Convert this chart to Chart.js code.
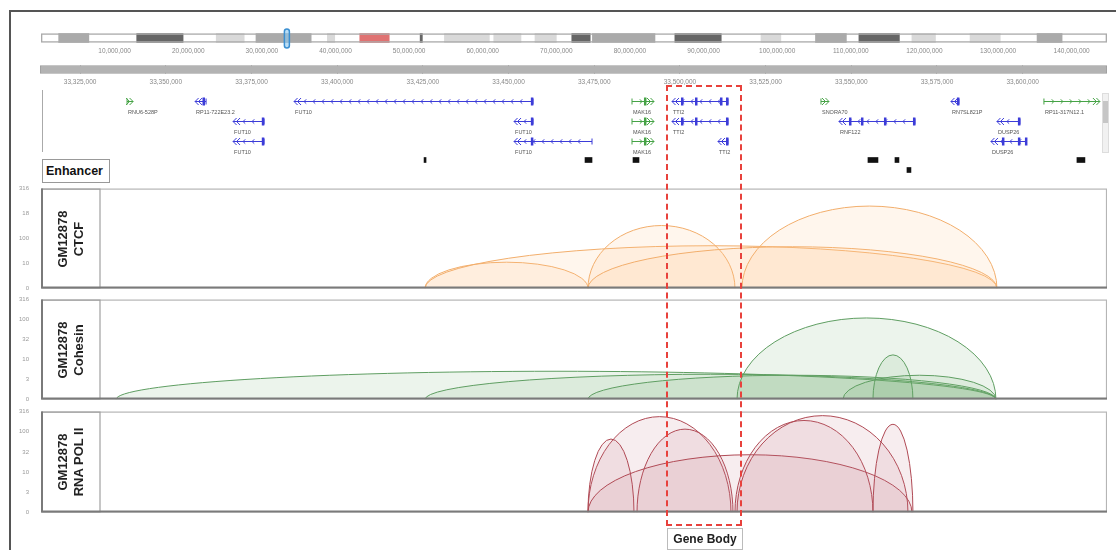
<!DOCTYPE html>
<html>
<head>
<meta charset="utf-8">
<script src="https://cdn.jsdelivr.net/npm/chart.js@4.4.0/dist/chart.umd.min.js"></script>
<style>
body { margin: 0; width: 1116px; height: 550px; overflow: hidden; background: #fff; position: relative; font-family: "Liberation Sans", Arial, sans-serif; }
canvas { position: absolute; }
.frame { position: absolute; left: 9px; top: 10px; width: 1200px; height: 600px; border: 2px solid #555; }
.plabel { position: absolute; left: 42px; width: 58px; }
.plabel span { position: absolute; left: 50%; top: 50%; transform: translate(-50%, -50%) rotate(-90deg); white-space: nowrap; font-weight: bold; font-size: 13px; line-height: 16px; text-align: center; color: #222; }
.enh { position: absolute; left: 42px; top: 159px; width: 63px; height: 22px; border: 1px solid #999; font-weight: bold; font-size: 12.5px; line-height: 22px; padding-left: 3px; color: #111; }
.gline { position: absolute; left: 42px; top: 90px; width: 1px; height: 62px; background: #aaa; }
.scroll { position: absolute; left: 1102px; top: 93px; width: 5px; height: 58px; background: #f1f1f1; border: 1px solid #ddd; }
.scroll div { position: absolute; left: 0; top: 7px; width: 5px; height: 22px; background: #c6c6c6; }
.body { position: absolute; left: 666px; top: 85px; width: 72px; height: 437px; border: 2px dashed #e8413c; }
.bodylbl { position: absolute; left: 667px; top: 528px; width: 74px; height: 20px; border: 1px solid #bbb; font-weight: bold; font-size: 12px; line-height: 20px; text-align: center; color: #222; }
</style>
</head>
<body>
<div class="frame"></div>

<canvas id="ideo" width="1066" height="33" style="left:41px;top:27px"></canvas>
<canvas id="ruler" width="1067" height="30" style="left:40px;top:60px"></canvas>
<div class="gline"></div>
<canvas id="genes" width="1067" height="70" style="left:40px;top:88px"></canvas>
<div class="scroll"><div></div></div>
<div class="enh">Enhancer</div>
<canvas id="enhancer" width="1067" height="20" style="left:40px;top:155px"></canvas>

<canvas id="ctcf" width="1097" height="113" style="left:10px;top:182px"></canvas>
<canvas id="cohesin" width="1097" height="113" style="left:10px;top:293px"></canvas>
<canvas id="pol" width="1097" height="114" style="left:10px;top:405px"></canvas>
<div class="plabel" style="top:187px;height:103px"><span>GM12878<br>CTCF</span></div>
<div class="plabel" style="top:298px;height:103px"><span>GM12878<br>Cohesin</span></div>
<div class="plabel" style="top:410px;height:104px"><span>GM12878<br>RNA POL II</span></div>

<div class="body"></div>
<div class="bodylbl">Gene Body</div>

<script>
Chart.defaults.font.family = '"Liberation Sans", Arial, sans-serif';
Chart.defaults.animation = false;

// chromosome ideogram (Mb)
const chromEnd = 144.8;
const markerMb = 33.4;
const ideoTicks = [10, 20, 30, 40, 50, 60, 70, 80, 90, 100, 110, 120, 130, 140];
const bandStarts = [2.4, 13.0, 23.8, 29.2, 38.9, 43.3, 51.5, 54.8, 61.5, 67.1, 72.1, 74.9, 86.1, 97.8, 105.2, 111.1, 118.3, 126.2, 135.3];
const bandEnds   = [6.5, 19.3, 27.6, 36.7, 39.9, 47.3, 51.8, 60.9, 65.2, 70.0, 74.6, 83.4, 92.4, 100.5, 109.4, 116.6, 121.5, 130.3, 138.7];
const bandShades = ['mid', 'dark', 'light', 'mid', 'light', 'cen', 'dark', 'light', 'light', 'light', 'dark', 'mid', 'dark', 'light', 'mid', 'dark', 'light', 'light', 'mid'];
const shadeColors = { light: '#d9d9d9', mid: '#aaaaaa', dark: '#666666', cen: '#e07272' };

// genomic window (bp)
const viewStart = 33313300;
const viewEnd = 33624600;
const rulerTicks = [33325000, 33350000, 33375000, 33400000, 33425000, 33450000, 33475000, 33500000, 33525000, 33550000, 33575000, 33600000];

// genes
const geneNames   = ['RNU6-528P', 'RP11-722E23.2', 'FUT10', 'FUT10', 'FUT10', 'FUT10', 'FUT10', 'MAK16', 'MAK16', 'MAK16', 'TTI2', 'TTI2', 'TTI2', 'SNORA70', 'RNF122', 'RN7SL821P', 'DUSP26', 'DUSP26', 'RP11-317N12.1'];
const geneStarts  = [33338700, 33358550, 33387420, 33369630, 33369630, 33451600, 33451600, 33486020, 33486020, 33486020, 33497690, 33497690, 33511100, 33541150, 33546400, 33579070, 33592490, 33590740, 33606200];
const geneEnds    = [33340460, 33361750, 33457140, 33378670, 33378670, 33457140, 33474350, 33492440, 33492440, 33492440, 33514020, 33514020, 33514020, 33543480, 33568570, 33581400, 33599200, 33600950, 33622530];
const geneRows    = [1, 1, 1, 2, 3, 2, 3, 1, 2, 3, 1, 2, 3, 1, 2, 1, 2, 3, 1];
const geneStrands = [1, -1, -1, -1, -1, -1, -1, 1, 1, 1, -1, -1, -1, 1, -1, -1, -1, -1, 1];
const geneExons   = [[], [33361000], [33456800], [33378300], [33378300], [33456800], [33456800],
  [33489800], [33489800], [33489800],
  [33500600, 33504690, 33511980, 33513730], [33500600, 33504690, 33513730], [33513730],
  [], [33549610, 33553110, 33559820, 33568280], [33581100], [33598900], [33594240, 33598900, 33600950], []];

// enhancers
const enhStarts = [33425350, 33472310, 33486310, 33554860, 33562740, 33566240, 33615830];
const enhEnds   = [33425930, 33474350, 33488060, 33557780, 33563900, 33567400, 33618160];
const enhRows   = ['a', 'a', 'a', 'a', 'a', 'b', 'a'];

// interaction arcs, heights in tick steps
const ctcfStarts  = [33425640, 33425640, 33473180, 33473180, 33518100];
const ctcfEnds    = [33473180, 33592490, 33516060, 33592490, 33592490];
const ctcfHeights = [1.05, 1.71, 2.52, 1.67, 3.3];
const ctcfTicks   = ['0', '10', '100', '18', '316'];

const cohesinStarts  = [33335500, 33425640, 33473180, 33516650, 33556320, 33547570];
const cohesinEnds    = [33592200, 33592200, 33592200, 33592200, 33567980, 33592200];
const cohesinHeights = [1.41, 1.26, 1.21, 4.08, 2.23, 1.21];
const cohesinTicks   = ['0', '3', '10', '32', '100', '316'];

const polStarts  = [33473180, 33473180, 33487480, 33473180, 33516060, 33516650, 33556320];
const polEnds    = [33514900, 33486600, 33515480, 33567690, 33556320, 33566530, 33567980];
const polHeights = [4.75, 3.64, 4.13, 2.86, 4.56, 4.8, 4.37];
const polTicks   = ['0', '3', '10', '32', '100', '316'];

const fmt = v => Math.round(v).toLocaleString('en-US');
const noLegend = { legend: { display: false }, tooltip: { enabled: false } };

// Ideogram
const markerPlugin = {
  id: 'marker',
  afterDatasetsDraw(chart) {
    const { ctx, chartArea: a } = chart;
    const x = chart.scales.x.getPixelForValue(markerMb);
    ctx.save();
    ctx.beginPath();
    ctx.roundRect(x - 2.5, a.top - 3, 5, a.bottom - a.top + 7, 2.5);
    ctx.fillStyle = 'rgba(140,200,240,0.6)';
    ctx.fill();
    ctx.strokeStyle = '#3b8fd1';
    ctx.lineWidth = 1.5;
    ctx.stroke();
    ctx.restore();
  }
};

new Chart(document.getElementById('ideo'), {
  type: 'bar',
  data: {
    labels: ['chr'],
    datasets: [
      { data: [{ x: [0, chromEnd], y: 'chr' }], backgroundColor: 'rgba(0,0,0,0)', borderColor: '#aaa', borderWidth: 1, borderSkipped: false, barThickness: 9, grouped: false },
      { data: bandStarts.map((s, i) => ({ x: [s, bandEnds[i]], y: 'chr' })), backgroundColor: bandShades.map(s => shadeColors[s]), borderWidth: 0, barThickness: 9, grouped: false }
    ]
  },
  options: {
    indexAxis: 'y', responsive: false,
    layout: { padding: { top: 5, bottom: 0, left: 0, right: 0 } },
    plugins: noLegend,
    scales: {
      x: {
        type: 'linear', min: 0, max: chromEnd,
        afterBuildTicks: s => { s.ticks = ideoTicks.map(v => ({ value: v })); },
        afterFit: s => { s.height = 16; },
        grid: { display: false, drawTicks: false }, border: { display: false },
        ticks: { autoSkip: false, maxRotation: 0, padding: 3, color: '#888', font: { size: 6.5 }, callback: v => fmt(v * 1e6) }
      },
      y: { display: false }
    }
  },
  plugins: [markerPlugin]
});

// Coordinate ruler
new Chart(document.getElementById('ruler'), {
  type: 'bar',
  data: {
    labels: ['r'],
    datasets: [{ data: [{ x: [viewStart, viewEnd], y: 'r' }], backgroundColor: '#b3b3b3', borderColor: '#9a9a9a', borderWidth: 1, borderSkipped: false, barThickness: 8 }]
  },
  options: {
    indexAxis: 'y', responsive: false,
    layout: { padding: { top: 5, bottom: 0, left: 0, right: 0 } },
    plugins: noLegend,
    scales: {
      x: {
        type: 'linear', min: viewStart, max: viewEnd, z: 1,
        afterBuildTicks: s => { s.ticks = rulerTicks.map(v => ({ value: v })); },
        afterFit: s => { s.height = 16; },
        grid: { color: 'rgba(150,150,150,0.5)', drawTicks: false }, border: { display: false },
        ticks: { autoSkip: false, maxRotation: 0, padding: 4, color: '#888', font: { size: 6.5 }, callback: v => fmt(v) }
      },
      y: { display: false }
    }
  }
});

// Gene track
function chevron(ctx, x, y, dir, s) {
  ctx.beginPath();
  ctx.moveTo(x - dir * s, y - s);
  ctx.lineTo(x, y);
  ctx.lineTo(x - dir * s, y + s);
  ctx.stroke();
}

const genePlugin = {
  id: 'genes',
  afterDatasetsDraw(chart) {
    const { ctx } = chart;
    const xs = chart.scales.x, ys = chart.scales.y;
    ctx.save();
    geneNames.forEach((name, i) => {
      const x1 = xs.getPixelForValue(geneStarts[i]);
      const x2 = xs.getPixelForValue(geneEnds[i]);
      const y = Math.round(ys.getPixelForValue(geneRows[i])) + 0.5;
      const dir = geneStrands[i];
      const col = dir > 0 ? '#46a346' : '#3c3cd8';
      ctx.strokeStyle = col;
      ctx.fillStyle = col;
      ctx.lineWidth = 1;
      ctx.beginPath();
      ctx.moveTo(x1, y);
      ctx.lineTo(x2, y);
      ctx.stroke();
      for (let x = x1 + 10; x < x2 - 6; x += 9) chevron(ctx, x, y, dir, 2.2);
      if (dir < 0) {
        chevron(ctx, x1, y, -1, 3.5);
        chevron(ctx, x1 + 3.5, y, -1, 3.5);
        ctx.fillRect(x2 - 0.5, y - 3, 1, 6);
      } else {
        chevron(ctx, x2, y, 1, 3.5);
        chevron(ctx, x2 - 3.5, y, 1, 3.5);
        ctx.fillRect(x1 - 0.5, y - 3, 1, 6);
      }
      geneExons[i].forEach(e => {
        const ex = xs.getPixelForValue(e);
        ctx.fillRect(ex - 1, y - 4, 2.5, 8);
      });
      ctx.fillStyle = '#555';
      ctx.font = '5.5px "Liberation Sans", Arial, sans-serif';
      ctx.textBaseline = 'middle';
      ctx.fillText(name, x1 + 1, y + 11);
    });
    ctx.restore();
  }
};

new Chart(document.getElementById('genes'), {
  type: 'scatter',
  data: { datasets: [{ data: [] }] },
  options: {
    responsive: false,
    layout: { padding: 0 },
    plugins: noLegend,
    scales: {
      x: { type: 'linear', min: viewStart, max: viewEnd, display: false },
      y: { type: 'linear', min: 0.35, max: 3.85, reverse: true, display: false }
    }
  },
  plugins: [genePlugin]
});

// Enhancer track
new Chart(document.getElementById('enhancer'), {
  type: 'bar',
  data: {
    labels: ['a', 'b'],
    datasets: [{ data: enhStarts.map((s, i) => ({ x: [s, enhEnds[i]], y: enhRows[i] })), backgroundColor: '#111', borderWidth: 0, barThickness: 5 }]
  },
  options: {
    indexAxis: 'y', responsive: false,
    layout: { padding: 0 },
    plugins: noLegend,
    scales: {
      x: { type: 'linear', min: viewStart, max: viewEnd, display: false },
      y: { display: false }
    }
  }
});

// Arc panels
function makeArcPlugin(starts, ends, heights, stroke, fill) {
  return {
    id: 'arcs',
    afterDatasetsDraw(chart) {
      const { ctx, chartArea: a } = chart;
      const xs = chart.scales.x, ys = chart.scales.y;
      const base = ys.getPixelForValue(0);
      ctx.save();
      ctx.beginPath();
      ctx.rect(a.left, a.top, a.right - a.left, a.bottom - a.top);
      ctx.clip();
      starts.forEach((s, i) => {
        const x1 = xs.getPixelForValue(s), x2 = xs.getPixelForValue(ends[i]);
        const ry = base - ys.getPixelForValue(heights[i]);
        ctx.beginPath();
        ctx.ellipse((x1 + x2) / 2, base, (x2 - x1) / 2, ry, 0, Math.PI, 2 * Math.PI);
        ctx.fillStyle = fill;
        ctx.fill();
        ctx.strokeStyle = stroke;
        ctx.lineWidth = 1;
        ctx.stroke();
      });
      ctx.restore();
      // panel frame and label box
      ctx.save();
      const left = a.left + 2;
      ctx.strokeStyle = '#b5b5b5';
      ctx.lineWidth = 1.2;
      ctx.strokeRect(left, a.top + 0.5, a.right - left - 0.5, a.bottom - a.top - 1);
      ctx.strokeStyle = '#a0a0a0';
      ctx.strokeRect(left, a.top + 0.5, 58, a.bottom - a.top - 1);
      ctx.strokeStyle = '#7a7a7a';
      ctx.lineWidth = 2;
      ctx.beginPath();
      ctx.moveTo(left, a.bottom - 1);
      ctx.lineTo(a.right, a.bottom - 1);
      ctx.moveTo(left, a.top);
      ctx.lineTo(left, a.bottom);
      ctx.stroke();
      ctx.restore();
    }
  };
}

function arcPanel(id, starts, ends, heights, ticks, stroke, fill) {
  new Chart(document.getElementById(id), {
    type: 'scatter',
    data: { datasets: [{ data: [] }] },
    options: {
      responsive: false,
      layout: { padding: { top: 5, bottom: 5, left: 0, right: 0 } },
      plugins: noLegend,
      scales: {
        x: { type: 'linear', min: viewStart, max: viewEnd, display: false },
        y: {
          type: 'linear', min: 0, max: ticks.length - 1,
          afterFit: s => { s.width = 30; },
          grid: { display: false }, border: { display: false },
          ticks: { stepSize: 1, padding: 3, color: '#999', font: { size: 6 }, callback: v => ticks[v] }
        }
      }
    },
    plugins: [makeArcPlugin(starts, ends, heights, stroke, fill)]
  });
}

arcPanel('ctcf', ctcfStarts, ctcfEnds, ctcfHeights, ctcfTicks, '#f2ae6c', 'rgba(252,196,140,0.16)');
arcPanel('cohesin', cohesinStarts, cohesinEnds, cohesinHeights, cohesinTicks, '#5f9e62', 'rgba(110,170,110,0.13)');
arcPanel('pol', polStarts, polEnds, polHeights, polTicks, '#b04a55', 'rgba(190,110,120,0.12)');
</script>
</body>
</html>
